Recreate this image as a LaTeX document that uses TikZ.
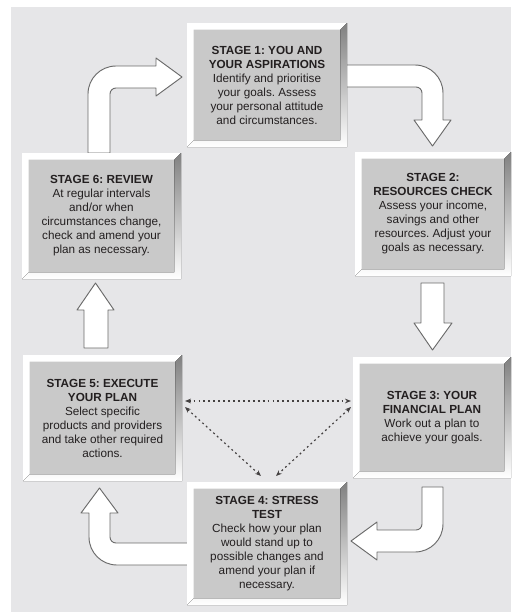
\documentclass[tikz,border=0pt]{standalone}
\usepackage{fontspec}
\setmainfont{Liberation Sans}
\usetikzlibrary{positioning, calc, arrows.meta}
\definecolor{panel}{HTML}{E6E6E8}
\definecolor{face}{HTML}{C9C9C9}
\definecolor{shade}{HTML}{909090}
\definecolor{ink}{HTML}{231F20}
\definecolor{rim}{HTML}{6A6A6A}
\newcommand{\bv}{5pt}
% white top/left rim and dark bottom/right rim of a stage box
\newcommand{\bevel}[1]{%
  \fill[white] (#1.north west) -- (#1.north east) -- ([shift={(-\bv,-\bv)}]#1.north east)
    -- ([shift={(\bv,-\bv)}]#1.north west) -- ([shift={(\bv,\bv)}]#1.south west) -- (#1.south west) -- cycle;
  \fill[shade] (#1.north east) -- (#1.south east) -- (#1.south west) -- ([shift={(\bv,\bv)}]#1.south west)
    -- ([shift={(-\bv,\bv)}]#1.south east) -- ([shift={(-\bv,-\bv)}]#1.north east) -- cycle;}

\begin{document}
\frenchspacing
\begin{tikzpicture}[x=0.75pt, y=-0.75pt,
  stg/.style={fill=face, inner sep=0pt, outer sep=0pt, align=center, text=ink,
              font=\fontsize{8.8}{10.5}\selectfont},
  blk/.style={fill=white, draw=rim, line width=0.7pt, line join=round},
  dotarr/.style={draw=ink!85, line width=0.9pt, dash pattern=on 1.4pt off 2.3pt,
                 {Stealth[length=4.5pt,width=3.5pt]}-{Stealth[length=4.5pt,width=3.5pt]}}
]
  \useasboundingbox (0,0) rectangle (513,612);
  \fill[panel] (11,7) rectangle (511,612);

  % block arrows
  \draw[blk] (88,153) -- (88,94) .. controls (88,78.5) and (100.5,66) .. (116,66) -- (156,66)
    -- (156,58) -- (182,77) -- (156,96) -- (156,88) -- (116,88)
    .. controls (112.7,88) and (110,90.7) .. (110,94) -- (110,153) -- cycle;
  \draw[blk] (340,65) -- (415,65) .. controls (430.5,65) and (443,77.5) .. (443,93) -- (443,120)
    -- (451,120) -- (432.5,146) -- (414,120) -- (422,120) -- (422,93)
    .. controls (422,89.7) and (419.3,87) .. (416,87) -- (340,87) -- cycle;
  \draw[blk] (421,283) -- (444,283) -- (444,323) -- (452,323) -- (432.5,350)
    -- (414,323) -- (421,323) -- cycle;
  \draw[blk] (422,487) -- (443,487) -- (443,524) .. controls (443,539.5) and (430.5,552) .. (415,552)
    -- (377,552) -- (377,560) -- (351,541) -- (377,522) -- (377,530) -- (416,530)
    .. controls (419.3,530) and (422,527.3) .. (422,524) -- cycle;
  \draw[blk] (195,543) -- (116,543) .. controls (112.7,543) and (110,540.3) .. (110,537) -- (110,513)
    -- (118,513) -- (99.5,488) -- (81,513) -- (89,513) -- (89,537)
    .. controls (89,552.5) and (101.5,565) .. (117,565) -- (195,565) -- cycle;
  \draw[blk] (84,348) -- (108,348) -- (108,310) -- (114,310) -- (95.5,283)
    -- (77,310) -- (84,310) -- cycle;

  % stage boxes
  \node[stg, minimum width=120pt, minimum height=93pt] (s1) at (267,85)
    {\textbf{STAGE 1: YOU AND}\\\textbf{YOUR ASPIRATIONS}\\Identify and prioritise\\your goals. Assess\\your personal attitude\\and circumstances.};
  \node[stg, minimum width=117pt, minimum height=93pt] (s2) at (433,214)
    {\textbf{STAGE 2:}\\\textbf{RESOURCES CHECK}\\Assess your income,\\savings and other\\resources. Adjust your\\goals as necessary.};
  \node[stg, minimum width=118.5pt, minimum height=90.75pt] (s3) at (432,417.5)
    {\textbf{STAGE 3: YOUR}\\\textbf{FINANCIAL PLAN}\\Work out a plan to\\achieve your goals.};
  \node[stg, minimum width=120pt, minimum height=92.25pt] (s4) at (267,543.5)
    {\textbf{STAGE 4: STRESS}\\\textbf{TEST}\\Check how your plan\\would stand up to\\possible changes and\\amend your plan if\\necessary.};
  \node[stg, minimum width=119.25pt, minimum height=94.5pt] (s5) at (102.5,418)
    {\textbf{STAGE 5: EXECUTE}\\\textbf{YOUR PLAN}\\Select specific\\products and providers\\and take other required\\actions.};
  \node[stg, minimum width=119.25pt, minimum height=94.5pt] (s6) at (101.5,216)
    {\textbf{STAGE 6: REVIEW}\\At regular intervals\\and/or when\\circumstances change,\\check and amend your\\plan as necessary.};
  \foreach \s in {s1,s2,s3,s4,s5,s6} {\bevel{\s}}

  % dotted links between stages 3, 4 and 5
  \coordinate (d5a) at (185,401);
  \coordinate (d3a) at (351,401);
  \coordinate (d5b) at (185,407);
  \coordinate (d3b) at (351,407);
  \coordinate (d4a) at (261,476);
  \coordinate (d4b) at (276,476);
  \draw[dotarr] (d5a) -- (d3a);
  \draw[dotarr] (d5b) -- (d4a);
  \draw[dotarr] (d3b) -- (d4b);
\end{tikzpicture}
\end{document}
